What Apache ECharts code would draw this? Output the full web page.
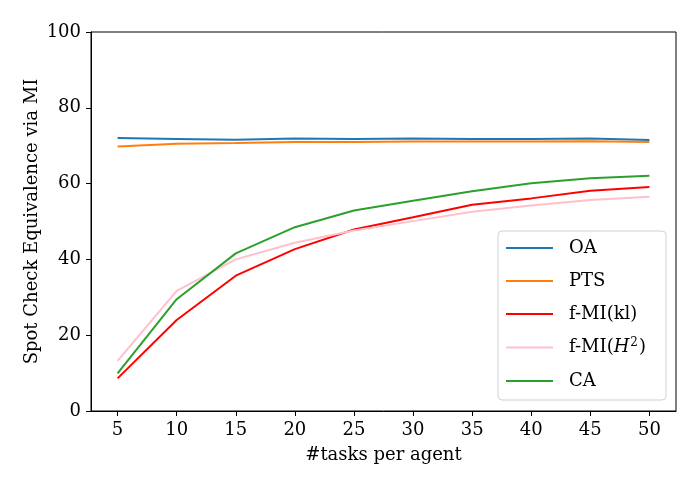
<!DOCTYPE html>
<html>
<head>
<meta charset="utf-8">
<script src="https://cdn.jsdelivr.net/npm/echarts@6/dist/echarts.min.js"></script>
<style>html,body{margin:0;padding:0;background:#fff}#c{width:700px;height:490px}</style>
</head>
<body>
<div id="c"></div>
<script>
const tasks = [5, 10, 15, 20, 25, 30, 35, 40, 45, 50];
const oa   = [72.0, 71.8, 71.6, 71.9, 71.8, 71.9, 71.8, 71.8, 71.9, 71.5];
const pts  = [69.8, 70.5, 70.7, 71.0, 71.0, 71.1, 71.1, 71.1, 71.2, 71.0];
const fmiKl = [8.6, 24.0, 35.7, 42.7, 47.9, 51.1, 54.4, 56.1, 58.1, 59.1];
const fmiH2 = [13.2, 31.7, 40.0, 44.4, 47.6, 50.1, 52.6, 54.2, 55.7, 56.5];
const ca   = [9.9, 29.5, 41.6, 48.5, 52.9, 55.5, 58.0, 60.1, 61.4, 62.1];
const yTicks = [0, 20, 40, 60, 80, 100];

const FONT = 'DejaVu Serif';
const FS = 18;
const pair = arr => tasks.map((t, i) => [t, arr[i]]);
const mk = (name, data, color) => ({
  name, type: 'line', data: pair(data), showSymbol: false, symbol: 'none',
  lineStyle: { color, width: 2 }, itemStyle: { color }, animation: false
});

const chart = echarts.init(document.getElementById('c'));
chart.setOption({
  animation: false,
  textStyle: { fontFamily: FONT },
  grid: { left: 91, right: 24, top: 32, bottom: 79, show: true, borderColor: '#000', borderWidth: 1, backgroundColor: 'transparent' },
  xAxis: {
    type: 'value', min: 2.75, max: 52.25,
    name: '#tasks per agent', nameLocation: 'middle', nameGap: 35, nameMoveOverlap: false,
    nameTextStyle: { fontFamily: FONT, fontSize: FS, color: '#000' },
    axisLine: { show: true, lineStyle: { color: '#000', width: 1 } },
    axisTick: { show: true, length: 5, lineStyle: { color: '#000' }, customValues: tasks },
    axisLabel: { fontFamily: FONT, fontSize: FS, color: '#000', margin: 10, customValues: tasks },
    splitLine: { show: false }
  },
  yAxis: {
    type: 'value', min: 0, max: 100, interval: 20,
    name: 'Spot Check Equivalence via MI', nameLocation: 'middle', nameGap: 50, nameMoveOverlap: false,
    nameTextStyle: { fontFamily: FONT, fontSize: FS, color: '#000' },
    axisLine: { show: true, lineStyle: { color: '#000', width: 1 } },
    axisTick: { show: true, length: 5, lineStyle: { color: '#000' } },
    axisLabel: { fontFamily: FONT, fontSize: FS, color: '#000', margin: 10 },
    splitLine: { show: false }
  },
  legend: {
    orient: 'vertical', left: 498, top: 231,
    padding: [7, 20, 9, 8],
    itemWidth: 47, itemHeight: 2, itemGap: 13,
    icon: 'rect',
    borderColor: '#d0d0d0', borderWidth: 1, borderRadius: 4,
    backgroundColor: 'rgba(255,255,255,0.8)',
    data: ['OA', 'PTS', 'f-MI(kl)', 'f-MI(H2)', 'CA'],
    formatter: n => n === 'f-MI(H2)' ? '{a|f-MI(}{i|H}{s|2}{a|)}' : '{a|' + n + '}',
    textStyle: {
      fontFamily: FONT, fontSize: FS, color: '#000', lineHeight: 20, padding: [0, 0, 0, 11],
      rich: {
        a: { fontFamily: FONT, fontSize: FS, color: '#000', lineHeight: 20 },
        i: { fontFamily: FONT, fontSize: FS, fontStyle: 'italic', color: '#000', lineHeight: 20 },
        s: { fontFamily: FONT, fontSize: 12, color: '#000', lineHeight: 20, padding: [0, 1, 9, 1] }
      }
    }
  },
  series: [
    mk('OA', oa, '#1f77b4'),
    mk('PTS', pts, '#ff7f0e'),
    mk('f-MI(kl)', fmiKl, '#ff0000'),
    mk('f-MI(H2)', fmiH2, '#ffc0cb'),
    mk('CA', ca, '#2ca02c')
  ]
});
</script>
</body>
</html>
